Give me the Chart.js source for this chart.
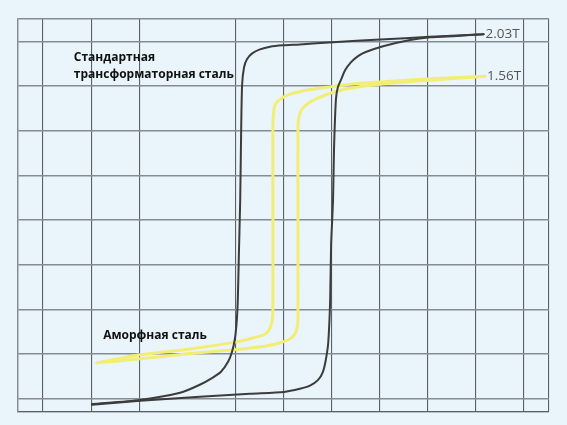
<!DOCTYPE html>
<html>
<head>
<meta charset="utf-8">
<script src="https://cdn.jsdelivr.net/npm/chart.js@4.4.0/dist/chart.umd.min.js"></script>
<style>
    html, body { margin: 0; padding: 0; background: #eaf4fb; }
    #wrap { width: 567px; height: 425px; }
</style>
</head>
<body>
<div id="wrap"><canvas id="loop"></canvas></div>
<script>
// grid positions (abstract H / B units), first and last are the frame
const xTicks = [-4.52, -4, -3, -2, 0, 1, 2, 3, 4, 5, 6, 6.52];
const yTicks = [-4.3, -4, -3, -2, -1, 0, 1, 2, 3, 4, 4.5];

// standard transformer steel, ascending branch (bottom-left -> up -> tip)
const steelUpX = [-2.98, -1.98, -0.74, 0.30, 1.01, 1.34, 1.55, 1.72, 1.82, 1.88, 1.93, 1.97, 1.99, 2.03, 2.05, 2.09, 2.13, 2.20, 2.28, 2.40, 2.55, 2.71, 3.07, 3.63, 4.05, 4.60, 5.16];
const steelUpY = [-4.14, -4.05, -3.96, -3.89, -3.85, -3.78, -3.71, -3.58, -3.40, -3.13, -2.75, -1.79, -0.55, 0.45, 1.58, 2.70, 2.97, 3.15, 3.35, 3.53, 3.67, 3.76, 3.89, 4.03, 4.09, 4.12, 4.16];
// descending branch (tip -> left -> down)
const steelDownX = [5.16, 4.05, 3.01, 2.03, 1.34, 0.99, 0.72, 0.51, 0.35, 0.24, 0.18, 0.14, 0.12, 0.10, 0.07, 0.05, 0.03, -0.01, -0.07, -0.15, -0.30, -0.47, -0.74, -1.15, -1.98, -2.98];
const steelDownY = [4.16, 4.10, 4.04, 3.98, 3.93, 3.91, 3.88, 3.82, 3.73, 3.60, 3.42, 3.04, 2.03, 0.46, -0.88, -1.78, -2.23, -2.66, -2.95, -3.17, -3.40, -3.53, -3.69, -3.87, -4.03, -4.12];

// amorphous steel
const amorUpX = [-2.88, -1.98, -0.94, 0.03, 0.62, 0.93, 1.14, 1.24, 1.29, 1.30, 1.30, 1.30, 1.32, 1.38, 1.51, 1.70, 2.03, 2.38, 3.01, 4.05, 5.19];
const amorUpY = [-3.20, -3.11, -2.99, -2.90, -2.83, -2.75, -2.66, -2.55, -2.37, -2.12, 0.46, 2.03, 2.30, 2.48, 2.61, 2.72, 2.86, 2.95, 3.04, 3.13, 3.22];
const amorDownX = [5.19, 4.05, 3.01, 2.38, 1.97, 1.55, 1.28, 1.07, 0.93, 0.84, 0.80, 0.78, 0.78, 0.78, 0.76, 0.70, 0.59, 0.30, 0.03, -0.94, -1.98, -2.88];
const amorDownY = [3.22, 3.16, 3.09, 3.04, 2.98, 2.92, 2.86, 2.79, 2.70, 2.61, 2.47, 2.14, 0.46, -2.01, -2.28, -2.46, -2.57, -2.66, -2.73, -2.89, -3.02, -3.20];

const endLabels = ['2.03T', '1.56T'];

function pts(xs, ys) {
    return xs.map(function (x, i) { return { x: x, y: ys[i] }; });
}

const darkLine = '#3c3c3c';
const yellowLine = '#f2ee74';

// captions placed in data units
const captions = [
    { text: 'Стандартная', x: -3.36, y: 3.64 },
    { text: 'трансформаторная сталь', x: -3.36, y: 3.26 },
    { text: 'Аморфная сталь', x: -2.75, y: -2.59 }
];

const textPlugin = {
    id: 'captions',
    afterDatasetsDraw: function (chart) {
        const c = chart.ctx;
        const xs = chart.scales.x, ys = chart.scales.y;
        c.save();
        c.textBaseline = 'middle';
        c.textAlign = 'left';
        c.fillStyle = '#111111';
        c.font = 'bold 12px "Open Sans"';
        captions.forEach(function (cp) {
            c.fillText(cp.text, xs.getPixelForValue(cp.x), ys.getPixelForValue(cp.y));
        });
        // values at the loop tips
        c.fillStyle = '#555555';
        c.font = '13.5px "Open Sans"';
        const tips = [[steelUpX, steelUpY], [amorUpX, amorUpY]];
        tips.forEach(function (t, i) {
            const n = t[0].length - 1;
            c.fillText(endLabels[i], xs.getPixelForValue(t[0][n]) + 2, ys.getPixelForValue(t[1][n]) - 0.5);
        });
        c.restore();
    }
};

function gridAxis(ticks, col, w) {
    return {
        type: 'linear',
        min: ticks[0],
        max: ticks[ticks.length - 1],
        afterBuildTicks: function (axis) {
            axis.ticks = ticks.map(function (v) { return { value: v }; });
        },
        ticks: { display: false },
        grid: { color: col, lineWidth: w, drawTicks: false },
        border: { color: col, width: w }
    };
}

new Chart(document.getElementById('loop'), {
    type: 'scatter',
    data: {
        datasets: [{
            label: 'steel up',
            data: pts(steelUpX, steelUpY),
            borderColor: darkLine,
            borderWidth: 2,
            order: 1
        }, {
            label: 'steel down',
            data: pts(steelDownX, steelDownY),
            borderColor: darkLine,
            borderWidth: 2,
            order: 1
        }, {
            label: 'amorphous up',
            data: pts(amorUpX, amorUpY),
            borderColor: yellowLine,
            borderWidth: 3,
            order: 2
        }, {
            label: 'amorphous down',
            data: pts(amorDownX, amorDownY),
            borderColor: yellowLine,
            borderWidth: 3,
            order: 2
        }]
    },
    options: {
        responsive: true,
        maintainAspectRatio: false,
        animation: false,
        showLine: true,
        elements: {
            point: { radius: 0, hoverRadius: 0 },
            line: { tension: 0.25, fill: false, borderCapStyle: 'round', borderJoinStyle: 'round' }
        },
        layout: { padding: { left: 18, right: 18, top: 19, bottom: 13 } },
        plugins: {
            legend: { display: false },
            tooltip: { enabled: false }
        },
        scales: {
            x: gridAxis(xTicks, '#5c6168', 1.1),
            y: gridAxis(yTicks, '#858c94', 1.4)
        }
    },
    plugins: [textPlugin]
});
</script>
</body>
</html>
